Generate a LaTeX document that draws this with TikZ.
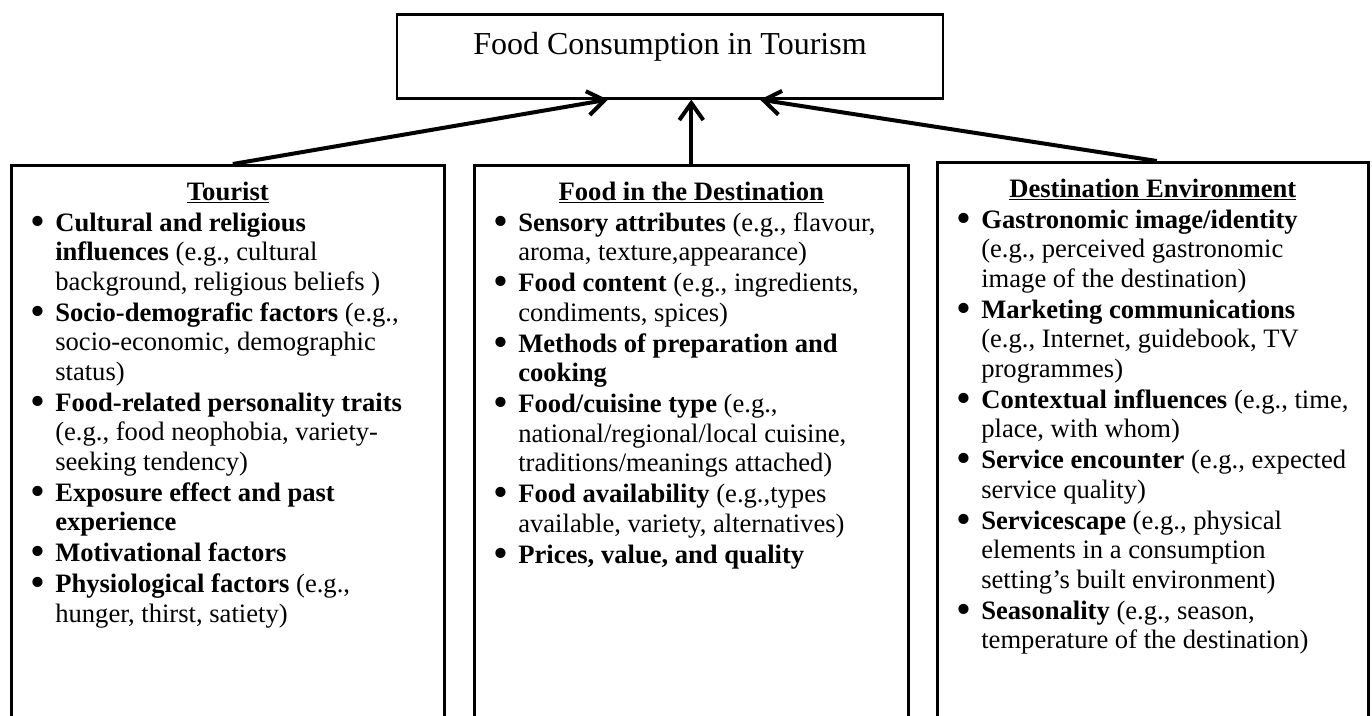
\documentclass[tikz,border=0pt]{standalone}
\usepackage{fontspec}
\setmainfont{Liberation Serif}
\usepackage{enumitem}
\usepackage{tikz}
\usetikzlibrary{arrows.meta}

\tikzset{
  goalbox/.style={draw, line width=2.6pt, inner sep=0pt, anchor=north,
    minimum width=546pt, text height=40pt, text depth=44pt,
    font=\fontsize{32pt}{36pt}\selectfont},
  factorbox/.style={draw, line width=2.6pt, inner sep=0pt, anchor=north west,
    text height=35pt, font=\fontsize{26.6pt}{29.5pt}\selectfont},
  influence/.style={line width=4pt, -{Straight Barb[length=17pt,width=24pt]}}
}

% heading of a factor box, bold and underlined
\newcommand{\factorhead}[1]{{\centering\underline{\textbf{#1}}\par}}
% a bigger bullet than the font's own
\newcommand{\bigdot}{\smash{\raisebox{-4pt}{\scalebox{1.6}{\textbullet}}}}
\setlist[itemize]{label=\bigdot, leftmargin=44pt, labelsep=9.5pt, topsep=1.5pt,
  itemsep=1.5pt, parsep=0pt, partopsep=0pt}

\begin{document}
\begin{tikzpicture}[x=1pt,y=-1pt]
        \useasboundingbox (0,0) rectangle (1372,715);
        \clip (0,0) rectangle (1372,715);

        % Draw the top box
        \node[goalbox] (goal) at (670,13) {Food Consumption in Tourism};

        % Draw the three factor boxes (they run off the bottom)
        \node[factorbox] (tourist) at (10,164) {%
          \begin{minipage}[t][600pt][t]{433pt}
            \factorhead{Tourist}
            \raggedright
            \begin{itemize}
              \item \textbf{Cultural and religious\\influences} (e.g., cultural\\background, religious beliefs )
              \item \textbf{Socio-demografic factors} (e.g.,\\socio-economic, demographic\\status)
              \item \textbf{Food-related personality traits}\\(e.g., food neophobia, variety-\\seeking tendency)
              \item \textbf{Exposure effect and past\\experience}
              \item \textbf{Motivational factors}
              \item \textbf{Physiological factors} (e.g.,\\hunger, thirst, satiety)
            \end{itemize}
          \end{minipage}};

        \node[factorbox] (food) at (473,164) {%
          \begin{minipage}[t][600pt][t]{434pt}
            \factorhead{Food in the Destination}
            \raggedright
            \begin{itemize}
              \item \textbf{Sensory attributes} (e.g., flavour,\\aroma, texture,appearance)
              \item \textbf{Food content} (e.g., ingredients,\\condiments, spices)
              \item \textbf{Methods of preparation and\\cooking}
              \item \textbf{Food/cuisine type} (e.g.,\\national/regional/local cuisine,\\traditions/meanings attached)
              \item \textbf{Food availability} (e.g.,types\\available, variety, alternatives)
              \item \textbf{Prices, value, and quality}
            \end{itemize}
          \end{minipage}};

        \node[factorbox] (env) at (936,161) {%
          \begin{minipage}[t][600pt][t]{431pt}
            \factorhead{Destination Environment}
            \raggedright
            \begin{itemize}
              \item \textbf{Gastronomic image/identity}\\(e.g., perceived gastronomic\\image of the destination)
              \item \textbf{Marketing communications}\\(e.g., Internet, guidebook, TV\\programmes)
              \item \textbf{Contextual influences} (e.g., time,\\place, with whom)
              \item \textbf{Service encounter} (e.g., expected\\service quality)
              \item \textbf{Servicescape} (e.g., physical\\elements in a consumption\\setting's built environment)
              \item \textbf{Seasonality} (e.g., season,\\temperature of the destination)
            \end{itemize}
          \end{minipage}};

        % Connect each factor box to the top box
        \draw[influence] ([xshift=5pt]tourist.north) -- ([xshift=-62pt]goal.south);
        \draw[influence] (food.north) -- (food.north |- goal.south);
        \draw[influence] ([xshift=4pt]env.north) -- ([xshift=90pt]goal.south);
    \end{tikzpicture}
\end{document}
